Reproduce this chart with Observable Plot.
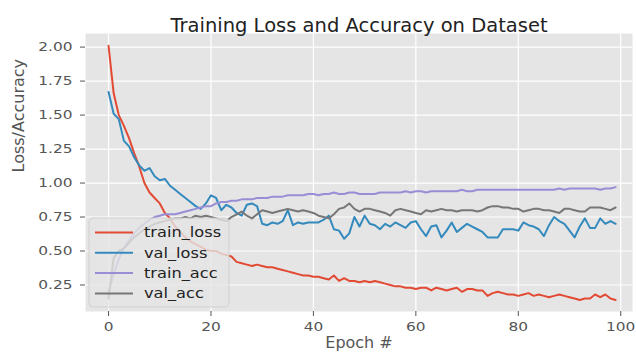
<!DOCTYPE html>
<html><head><meta charset="utf-8">
<script src="https://cdn.jsdelivr.net/npm/d3@7"></script>
<script src="https://cdn.jsdelivr.net/npm/@observablehq/plot@0.6"></script>
<style>body{margin:0;background:#fff;} svg{display:block}</style>
</head><body><div id="chart"></div>
<script>
const epochs = d3.range(0, 100);
const trainLoss = [2.01,1.66,1.50,1.42,1.33,1.22,1.12,1.00,0.93,0.89,
  0.85,0.78,0.74,0.68,0.64,0.60,0.57,0.55,0.53,0.51,
  0.50,0.50,0.48,0.47,0.46,0.42,0.41,0.40,0.39,0.40,
  0.39,0.38,0.38,0.37,0.36,0.35,0.34,0.33,0.32,0.32,
  0.31,0.31,0.30,0.29,0.32,0.28,0.30,0.28,0.28,0.27,
  0.28,0.27,0.28,0.27,0.26,0.25,0.24,0.24,0.23,0.23,
  0.22,0.23,0.23,0.21,0.23,0.22,0.21,0.22,0.23,0.20,
  0.22,0.22,0.21,0.21,0.17,0.19,0.20,0.19,0.18,0.18,
  0.17,0.18,0.19,0.17,0.18,0.17,0.16,0.17,0.18,0.17,
  0.16,0.15,0.14,0.15,0.15,0.18,0.16,0.18,0.15,0.14];
const valLoss = [1.67,1.51,1.47,1.31,1.27,1.19,1.13,1.09,1.11,1.05,
  1.02,1.03,0.98,0.95,0.92,0.89,0.86,0.83,0.81,0.85,
  0.91,0.89,0.80,0.84,0.82,0.78,0.76,0.84,0.85,0.83,
  0.70,0.69,0.71,0.70,0.72,0.80,0.69,0.71,0.70,0.71,
  0.71,0.71,0.73,0.76,0.66,0.65,0.59,0.63,0.75,0.68,
  0.76,0.70,0.69,0.66,0.70,0.68,0.71,0.69,0.67,0.71,
  0.72,0.66,0.61,0.68,0.69,0.60,0.65,0.71,0.64,0.67,
  0.70,0.68,0.66,0.64,0.60,0.60,0.60,0.66,0.66,0.66,
  0.65,0.71,0.69,0.68,0.66,0.61,0.69,0.75,0.72,0.70,
  0.65,0.60,0.68,0.74,0.67,0.67,0.74,0.70,0.72,0.70];
const trainAcc = [0.20,0.33,0.44,0.52,0.58,0.63,0.67,0.70,0.73,0.75,
  0.76,0.77,0.77,0.77,0.78,0.79,0.80,0.81,0.82,0.83,
  0.83,0.85,0.86,0.86,0.87,0.87,0.88,0.88,0.88,0.89,
  0.89,0.89,0.90,0.90,0.90,0.91,0.91,0.91,0.91,0.92,
  0.92,0.91,0.92,0.92,0.93,0.92,0.92,0.93,0.93,0.92,
  0.92,0.92,0.92,0.93,0.93,0.93,0.93,0.93,0.94,0.93,
  0.94,0.94,0.93,0.94,0.94,0.94,0.94,0.94,0.94,0.95,
  0.94,0.94,0.95,0.95,0.95,0.95,0.95,0.95,0.95,0.95,
  0.95,0.95,0.95,0.95,0.95,0.95,0.95,0.95,0.96,0.95,
  0.96,0.96,0.96,0.96,0.96,0.96,0.95,0.96,0.96,0.97];
const valAcc = [0.15,0.45,0.50,0.52,0.56,0.60,0.63,0.66,0.68,0.70,
  0.71,0.72,0.73,0.74,0.74,0.75,0.74,0.76,0.75,0.76,
  0.75,0.74,0.73,0.72,0.75,0.77,0.79,0.76,0.74,0.77,
  0.80,0.79,0.78,0.79,0.80,0.81,0.80,0.79,0.80,0.79,
  0.78,0.76,0.75,0.74,0.77,0.81,0.82,0.85,0.81,0.79,
  0.81,0.81,0.80,0.79,0.78,0.76,0.80,0.81,0.80,0.79,
  0.78,0.77,0.80,0.79,0.80,0.81,0.80,0.80,0.79,0.80,
  0.80,0.80,0.79,0.80,0.82,0.83,0.83,0.82,0.82,0.81,
  0.81,0.79,0.80,0.81,0.81,0.80,0.80,0.79,0.78,0.81,
  0.81,0.80,0.79,0.79,0.82,0.82,0.82,0.81,0.80,0.82];
const xTicks = [0, 20, 40, 60, 80, 100];
const yTicks = [0.25, 0.50, 0.75, 1.00, 1.25, 1.50, 1.75, 2.00];
const seriesNames = ["train_loss", "val_loss", "train_acc", "val_acc"];
const seriesColors = ["#E24A33", "#348ABD", "#988ED5", "#777777"];
const seriesValues = [trainLoss, valLoss, trainAcc, valAcc];
const titleText = "Training Loss and Accuracy on Dataset";
const xLabel = "Epoch #";
const yLabel = "Loss/Accuracy";

const rows = seriesNames.flatMap((name, k) =>
  seriesValues[k].map((v, i) => ({series: name, epoch: epochs[i], value: v})));

const W = 636, H = 356, mT = 33, mB = 45, mL = 85, mR = 4;

const plot = Plot.plot({
  width: W, height: H, marginTop: mT, marginBottom: mB, marginLeft: mL, marginRight: mR,
  style: {fontFamily: "DejaVu Sans", color: "#555555", background: "#fff", overflow: "visible"},
  x: {domain: [-4.5, 102.3]},
  y: {domain: [0.055, 2.10]},
  color: {domain: seriesNames, range: seriesColors},
  marks: [
    Plot.frame({fill: "#e5e5e5", stroke: null}),
    Plot.gridX(xTicks, {stroke: "#ffffff", strokeOpacity: 1, strokeWidth: 1.2}),
    Plot.gridY(yTicks, {stroke: "#ffffff", strokeOpacity: 1, strokeWidth: 1.2}),
    Plot.axisX(xTicks, {tickSize: 5, tickPadding: 6, fontSize: 12, label: null}),
    Plot.axisY(yTicks, {tickSize: 5, tickPadding: 8, fontSize: 12, label: null, tickFormat: d3.format(".2f")}),
    Plot.line(rows, {x: "epoch", y: "value", stroke: "series", z: "series", strokeWidth: 2}),
    Plot.text([titleText], {frameAnchor: "top", dy: -15, fontSize: 19.5, fill: "#222222", ariaLabel: "title"}),
    Plot.text([xLabel], {frameAnchor: "bottom", dy: 36, fontSize: 16, fill: "#555555", ariaLabel: "xlabel"}),
    Plot.text([yLabel], {frameAnchor: "left", dx: -67, rotate: -90, fontSize: 16, fill: "#555555", ariaLabel: "ylabel"})
  ]
});

// legend (lower left, semi-transparent like matplotlib)
const svg = d3.select(plot);
const frameBottom = H - mB;
const lx = mL + 4, ly = frameBottom - 93, lw = 140, lh = 89;
const lg = svg.append("g").attr("aria-label", "legend");
lg.append("rect").attr("x", lx).attr("y", ly).attr("width", lw).attr("height", lh)
  .attr("rx", 4).attr("fill", "#e5e5e5").attr("fill-opacity", 0.8)
  .attr("stroke", "#cccccc").attr("stroke-opacity", 0.8);
seriesNames.forEach((n, k) => {
  const yy = ly + 14.5 + k * 20.3;
  lg.append("line").attr("x1", lx + 6).attr("x2", lx + 44).attr("y1", yy).attr("y2", yy)
    .attr("stroke", seriesColors[k]).attr("stroke-width", 2);
  lg.append("text").attr("x", lx + 55).attr("y", yy).attr("dy", "0.35em")
    .attr("text-anchor", "start")
    .attr("font-size", 13.5).attr("fill", "#222222").attr("class", "lgtext").text(n);
});

document.getElementById("chart").append(plot);

function stretch(sel, f) {
  sel.each(function () {
    const L = this.getComputedTextLength();
    if (L > 0) {
      this.setAttribute("textLength", L * f);
      this.setAttribute("lengthAdjust", "spacingAndGlyphs");
    }
  });
}
stretch(svg.selectAll('g[aria-label="x-axis tick label"] text'), 1.28);
stretch(svg.selectAll('g[aria-label="y-axis tick label"] text'), 1.28);
stretch(svg.selectAll('g[aria-label="title"] text'), 1.22);
stretch(svg.selectAll('g[aria-label="xlabel"] text'), 1.17);
stretch(svg.selectAll('text.lgtext'), 1.2);
</script></body></html>
